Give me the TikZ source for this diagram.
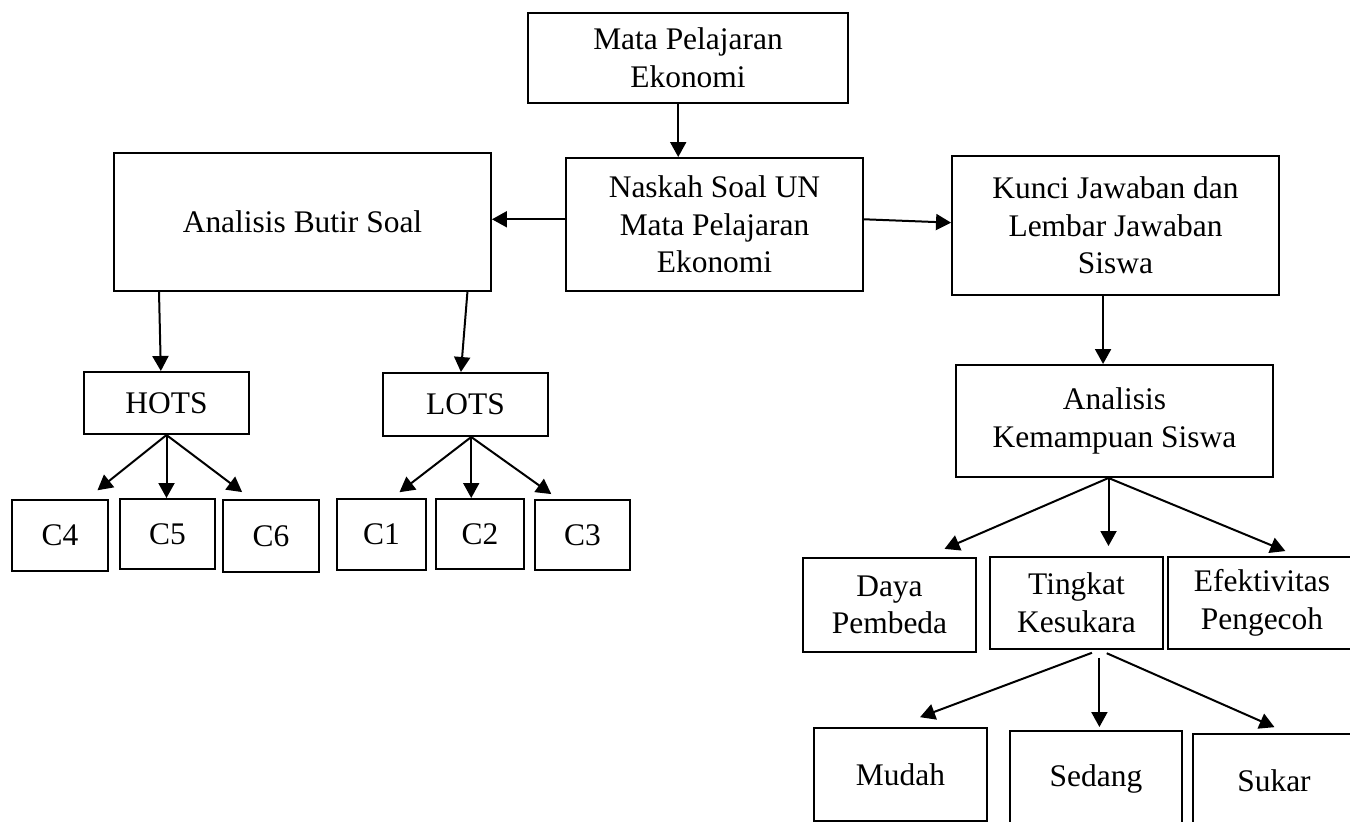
\documentclass[tikz,border=0pt]{standalone}
\usepackage{fontspec}
\setmainfont{Liberation Serif}
\usetikzlibrary{arrows.meta}

\begin{document}
\begin{tikzpicture}[x=0.02cm, y=-0.02cm, font=\fontsize{17.9pt}{21.4pt}\selectfont, every node/.style={align=center}, box/.style={draw, line width=0.04cm, inner sep=0pt}, arrow/.style={-{Triangle[length=0.3cm, width=0.32cm]}, line width=0.04cm}]
\path[use as bounding box, fill=white] (0,0) rectangle (1350,822);
\clip (0,0) rectangle (1350,822);
\node[box, minimum width=6.4cm, minimum height=1.8cm] (mata) at (688,58) {Mata Pelajaran\\Ekonomi};
\node[box, minimum width=5.94cm, minimum height=2.66cm] (naskah) at (714.5,224.5) {Naskah Soal UN\\Mata Pelajaran\\Ekonomi};
\node[box, minimum width=7.54cm, minimum height=2.76cm] (butir) at (302.5,222) {Analisis Butir Soal};
\node[box, minimum width=6.54cm, minimum height=2.78cm] (kunci) at (1115.5,225.5) {Kunci Jawaban dan\\Lembar Jawaban\\Siswa};
\node[box, minimum width=3.3cm, minimum height=1.24cm] (hots) at (166.5,403) {HOTS};
\node[box, minimum width=3.3cm, minimum height=1.26cm] (lots) at (465.5,404.5) {LOTS};
\node[box, minimum width=1.92cm, minimum height=1.42cm] (c4) at (60,535.5) {C4};
\node[box, minimum width=1.9cm, minimum height=1.4cm] (c5) at (167.5,534) {C5};
\node[box, minimum width=1.92cm, minimum height=1.44cm] (c6) at (271,536) {C6};
\node[box, minimum width=1.78cm, minimum height=1.42cm] (c1) at (381.5,534.5) {C1};
\node[box, minimum width=1.76cm, minimum height=1.4cm] (c2) at (480,534) {C2};
\node[box, minimum width=1.9cm, minimum height=1.4cm] (c3) at (582.5,535) {C3};
\node[box, minimum width=6.34cm, minimum height=2.24cm] (kemampuan) at (1114.5,421) {Analisis\\Kemampuan Siswa};
\node[box, minimum width=3.46cm, minimum height=1.88cm] (daya) at (889.5,605) {Daya\\Pembeda};
\node[box, minimum width=3.46cm, minimum height=1.84cm] (tingkat) at (1076.5,603) {Tingkat\\Kesukara};
\node[box, minimum width=3.76cm, minimum height=1.84cm] (efektif) at (1262,603) {Efektivitas\\Pengecoh};
\node[box, minimum width=3.46cm, minimum height=1.86cm] (mudah) at (900.5,774.5) {Mudah};
\node[box, minimum width=3.44cm, minimum height=1.9cm] (sedang) at (1096,778.5) {Sedang};
\node[box, minimum width=3.24cm, minimum height=1.88cm] (sukar) at (1274,781) {Sukar};
\draw[arrow] (mata.-102) -- (mata.-102 |- naskah.north);
\draw[arrow] (naskah.178) -- (naskah.178 -| butir.east);
\draw[arrow] (naskah.2) -- (kunci.179);
\draw[arrow] (butir.-154) -- (hots.100);
\draw[arrow] (butir.-23) -- (lots.98);
\draw[arrow] (kunci.-100) -- (kunci.-100 |- kemampuan.north);
\draw[arrow, shorten >=0.28cm] (hots.south) -- (c4.54);
\draw[arrow] (hots.south) -- (hots.south |- c5.north);
\draw[arrow, shorten >=0.23cm] (hots.south) -- (c6.118);
\draw[arrow, shorten >=0.19cm] (lots.-80) -- (c1.74);
\draw[arrow] (lots.-80) -- (lots.-80 |- c2.north);
\draw[arrow, shorten >=0.17cm] (lots.-80) -- (c3.124);
\draw[arrow, shorten >=0.41cm] (kemampuan.-96) -- (daya.53);
\draw[arrow, shorten >=0.2cm] (kemampuan.-96) -- (kemampuan.-96 |- tingkat.north);
\draw[arrow, shorten >=0.26cm] (kemampuan.-96) -- (efektif.53);
\draw[arrow, shorten <=0.16cm, shorten >=0.56cm] (tingkat.-64) -- (mudah.98);
\draw[arrow, shorten <=0.16cm, shorten >=0.06cm] (tingkat.-64) -- (tingkat.-64 |- sedang.north);
\draw[arrow, shorten <=0.16cm, shorten >=0.29cm] (tingkat.-64) -- (sukar.74);
\end{tikzpicture}
\end{document}
